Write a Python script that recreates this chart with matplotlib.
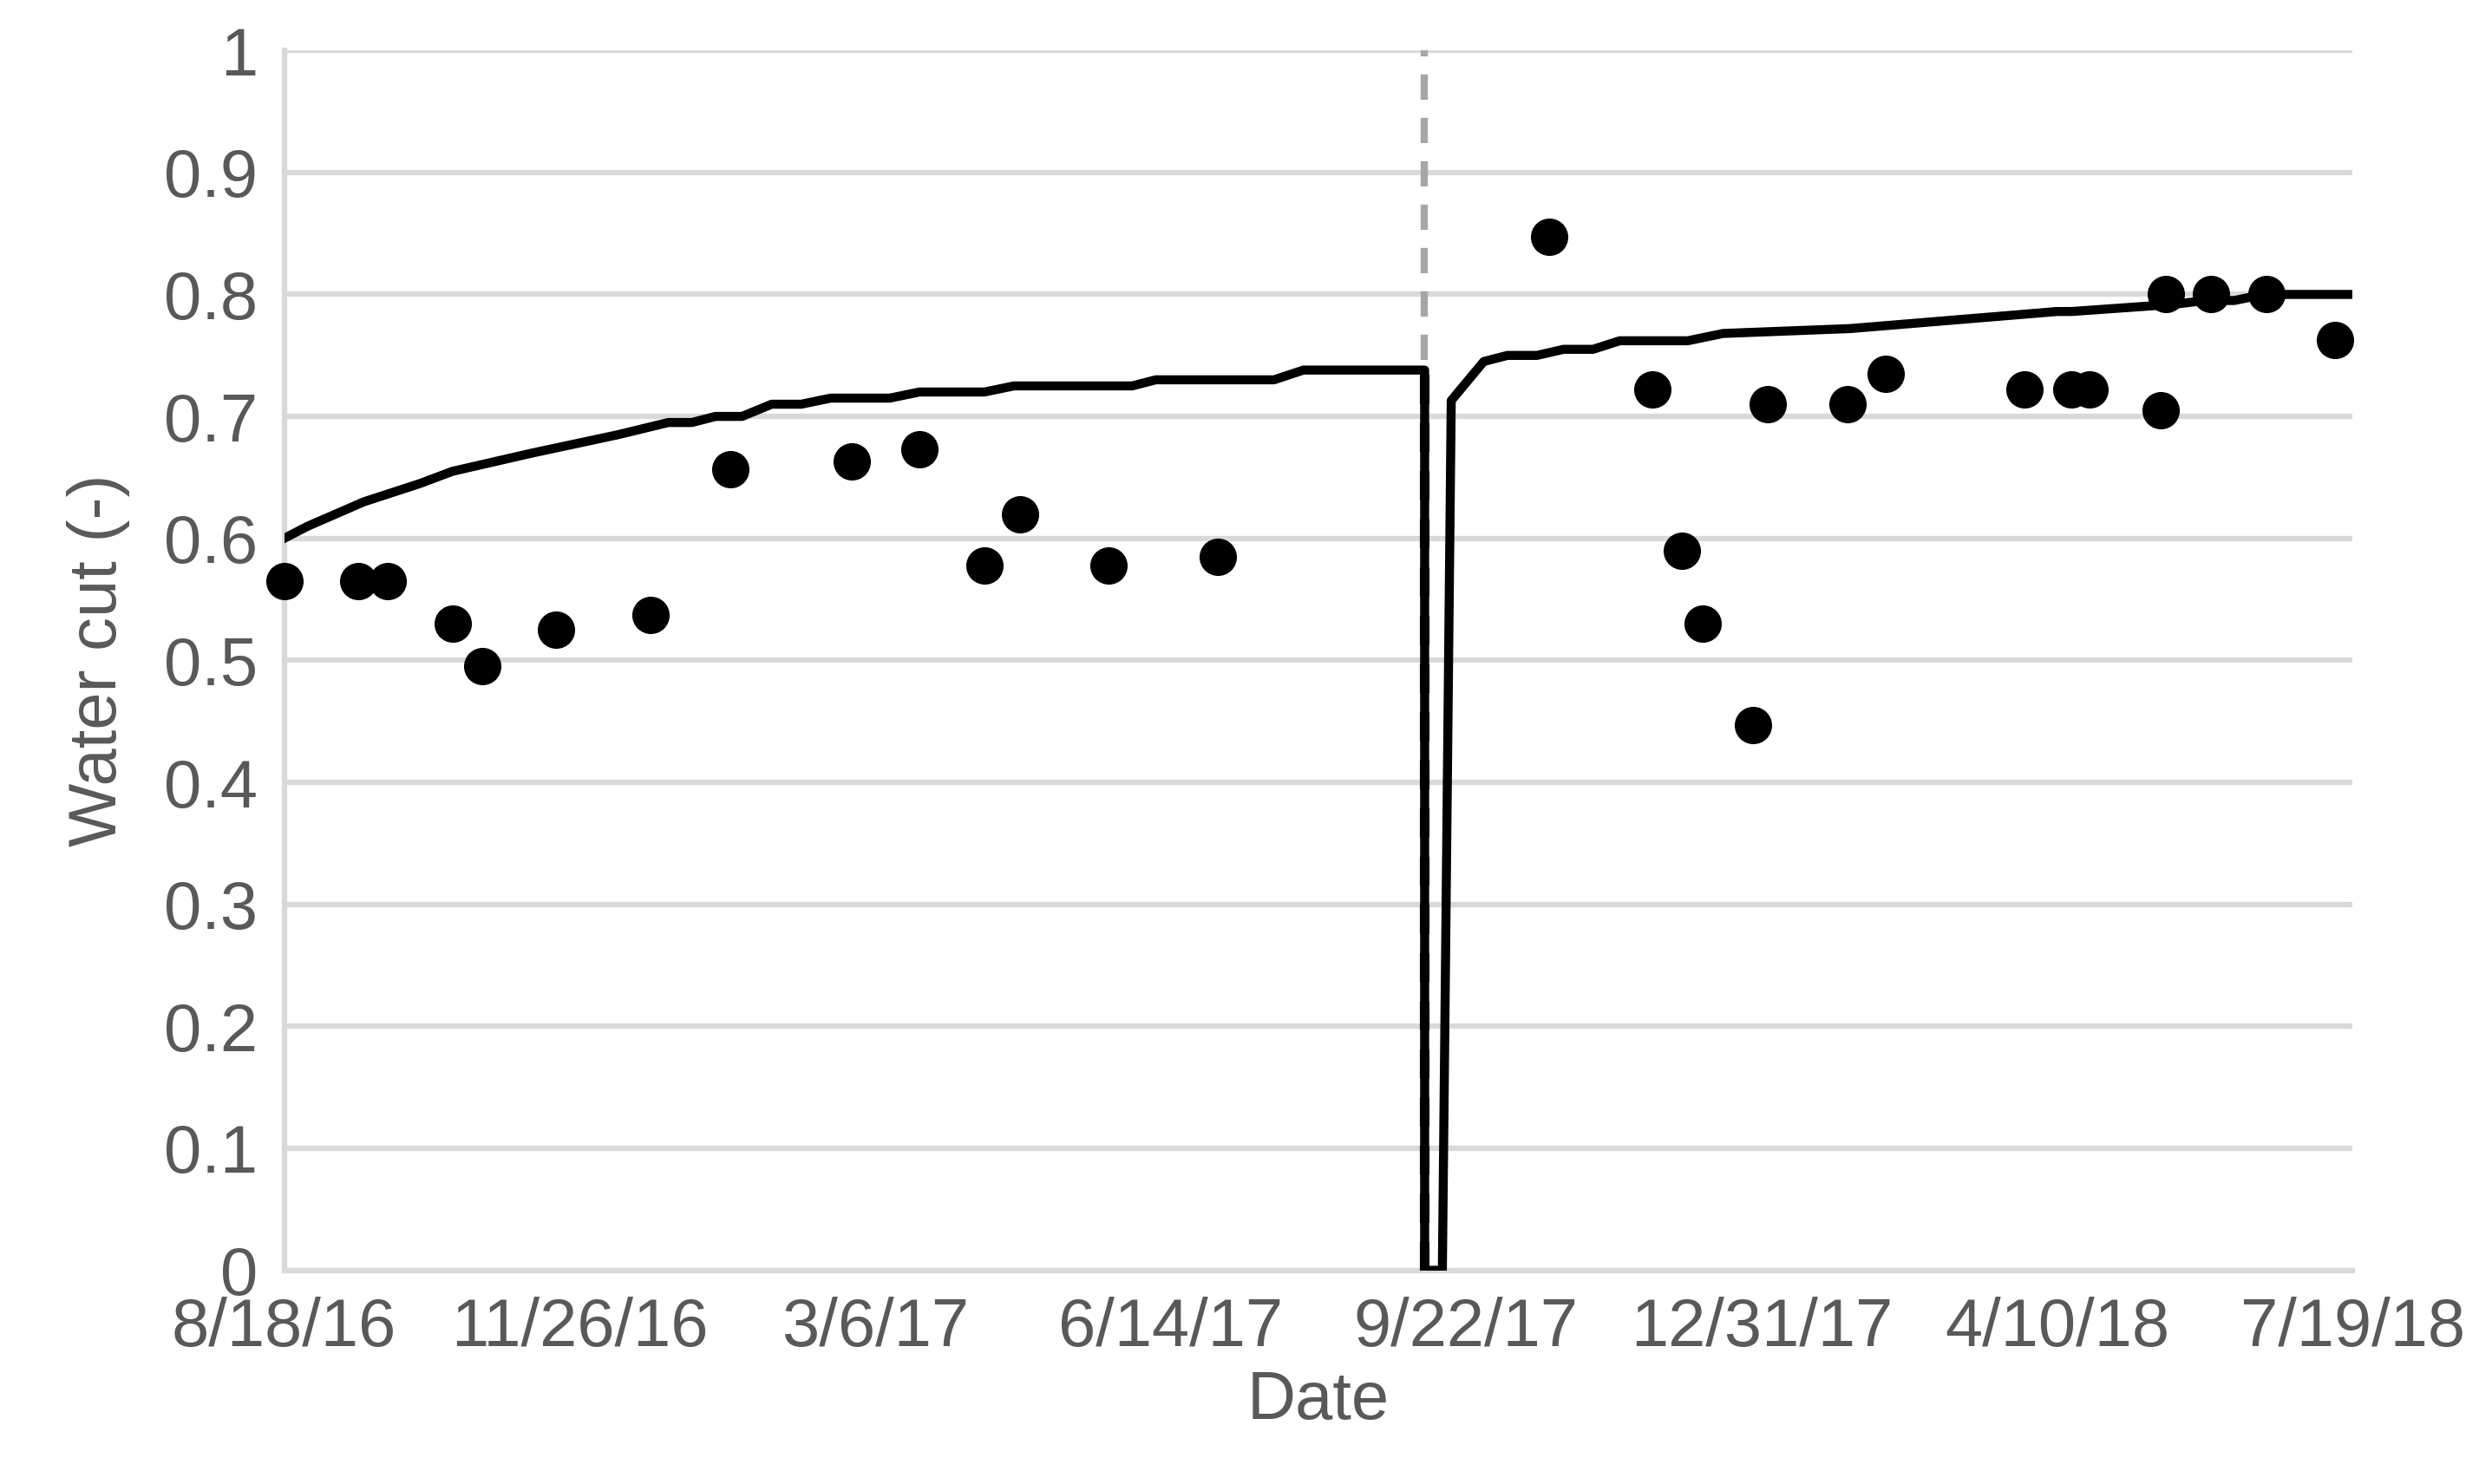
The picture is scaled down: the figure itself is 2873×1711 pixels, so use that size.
import numpy as np
import matplotlib.pyplot as plt

plt.rcParams['font.family'] = ['Liberation Sans', 'DejaVu Sans']

# days since 8/18/16
obs_day = [0, 25, 35, 57, 67, 92, 124, 151, 192, 215, 237, 249, 279, 316,
           428, 463, 473, 480, 497, 502, 529, 542, 589, 605, 611, 635, 637, 652, 671, 694]
obs_wc = [0.565, 0.565, 0.565, 0.53, 0.495, 0.525, 0.537, 0.657, 0.663, 0.673, 0.578, 0.62, 0.578, 0.585,
          0.847, 0.722, 0.59, 0.53, 0.447, 0.71, 0.71, 0.735, 0.722, 0.722, 0.722, 0.705, 0.8, 0.8, 0.8, 0.763]

sim_day = [0, 8, 27, 46, 57, 84, 113, 130, 138, 146, 155, 165, 175, 185, 205, 215, 237, 247, 287, 295,
           335, 345, 386, 386, 392, 395, 406, 414, 424, 433, 443, 452, 475, 487, 530, 545, 600, 605,
           640, 650, 660, 670, 700]
sim_wc = [0.6, 0.61, 0.63, 0.645, 0.655, 0.67, 0.685, 0.695, 0.695, 0.7, 0.7, 0.71, 0.71, 0.715, 0.715,
          0.72, 0.72, 0.725, 0.725, 0.73, 0.73, 0.738, 0.738, 0.0, 0.0, 0.713, 0.745, 0.75, 0.75, 0.755,
          0.755, 0.762, 0.762, 0.768, 0.772, 0.775, 0.786, 0.786, 0.792, 0.795, 0.795, 0.8, 0.8]

tick_days = [0, 100, 200, 300, 400, 500, 600, 700]
tick_labels = ['8/18/16', '11/26/16', '3/6/17', '6/14/17', '9/22/17', '12/31/17', '4/10/18', '7/19/18']
event_day = 386

fig = plt.figure(figsize=(28.73, 17.11), dpi=100)
ax = fig.add_axes([0.114, 0.144, 0.83, 0.822])
grey = '#595959'

ax.plot(sim_day, sim_wc, color='black', lw=7.5, zorder=3)
ax.plot([event_day, event_day], [0, 0.738], color='black', lw=8, ls=(0, (3, 2)), zorder=3)
ax.plot([event_day, event_day], [0, 1], color='#a6a6a6', lw=6, ls=(0, (3.5, 2.5)), zorder=2)
ax.plot(obs_day, obs_wc, 'o', color='black', ms=30, zorder=4, clip_on=False)

ax.set_xlim(0, 700)
ax.set_ylim(0, 1)
ax.set_xticks(tick_days)
ax.set_xticklabels(tick_labels)
ax.set_yticks(np.arange(0, 1.01, 0.1))
ax.set_yticklabels(['0'] + ['%.1f' % v for v in np.arange(0.1, 0.95, 0.1)] + ['1'])
ax.grid(axis='y', color='#d9d9d9', lw=4.5)
ax.set_axisbelow(True)
for s in ['top', 'right']:
    ax.spines[s].set_visible(False)
ax.spines['left'].set_color('#d9d9d9')
ax.spines['left'].set_linewidth(4.5)
ax.spines['bottom'].set_color('#d9d9d9')
ax.spines['bottom'].set_linewidth(4.5)
ax.tick_params(length=0, labelsize=56, labelcolor=grey, pad=22)
ax.set_xlabel('Date', fontsize=56, color=grey, labelpad=8)
ax.set_ylabel('Water cut (-)', fontsize=56, color=grey, labelpad=28)

fig.savefig('out.png')
